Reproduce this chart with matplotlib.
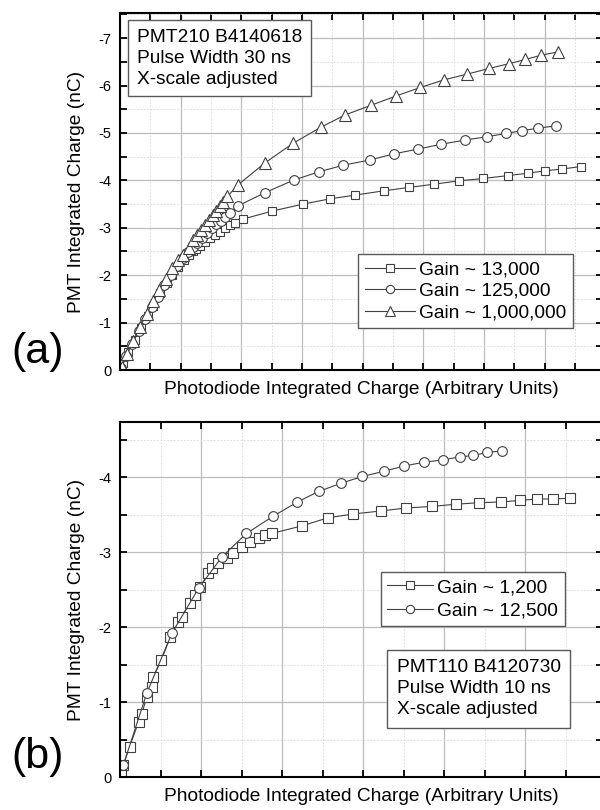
import matplotlib
matplotlib.use("Agg")
import matplotlib.pyplot as plt
from matplotlib.ticker import MultipleLocator

plt.rcParams['font.family'] = ['Liberation Sans', 'DejaVu Sans']
plt.rcParams['axes.unicode_minus'] = False

# (a) PMT210, 30 ns pulses
a_sq_x = [0.01, 0.05, 0.13, 0.24, 0.35, 0.46, 0.55, 0.66, 0.77, 0.86, 0.96, 1.05, 1.13, 1.20, 1.26,
          1.32, 1.40, 1.48, 1.57, 1.65, 1.73, 1.81, 1.89, 2.02, 2.50, 3.02, 3.46, 3.88, 4.35, 4.76,
          5.18, 5.59, 5.99, 6.39, 6.72, 7.00, 7.29, 7.59]
a_sq_y = [-0.03, -0.15, -0.37, -0.64, -0.89, -1.14, -1.36, -1.62, -1.84, -2.01, -2.17, -2.31, -2.42, -2.50, -2.56,
          -2.62, -2.70, -2.78, -2.85, -2.92, -2.99, -3.06, -3.11, -3.18, -3.35, -3.50, -3.61, -3.69, -3.78, -3.85,
          -3.92, -3.99, -4.04, -4.10, -4.15, -4.20, -4.24, -4.29]

a_ci_x = [0.02, 0.10, 0.20, 0.31, 0.42, 0.52, 0.62, 0.73, 0.84, 0.94, 1.04, 1.12, 1.20, 1.27, 1.35,
          1.43, 1.51, 1.59, 1.66, 1.73, 1.81, 1.94, 2.39, 2.87, 3.28, 3.68, 4.12, 4.52, 4.91, 5.29,
          5.68, 6.05, 6.36, 6.63, 6.89, 7.18]
a_ci_y = [-0.04, -0.30, -0.55, -0.82, -1.08, -1.32, -1.55, -1.79, -2.00, -2.19, -2.36, -2.48, -2.59, -2.68, -2.78,
          -2.88, -2.99, -3.07, -3.15, -3.23, -3.32, -3.46, -3.74, -4.01, -4.18, -4.32, -4.43, -4.56, -4.66, -4.76,
          -4.85, -4.92, -4.99, -5.05, -5.10, -5.15]

a_tr_x = [0.03, 0.12, 0.22, 0.33, 0.44, 0.55, 0.65, 0.75, 0.86, 0.95, 1.04, 1.13, 1.21, 1.27, 1.33,
          1.40, 1.47, 1.54, 1.59, 1.65, 1.70, 1.77, 1.94, 2.39, 2.85, 3.31, 3.71, 4.13, 4.55, 4.95,
          5.34, 5.72, 6.08, 6.41, 6.68, 6.94, 7.22]
a_tr_y = [-0.06, -0.34, -0.62, -0.91, -1.19, -1.45, -1.69, -1.92, -2.16, -2.32, -2.43, -2.57, -2.74, -2.85, -2.95,
          -3.06, -3.16, -3.27, -3.36, -3.45, -3.55, -3.66, -3.90, -4.37, -4.78, -5.12, -5.38, -5.58, -5.78, -5.96,
          -6.12, -6.24, -6.36, -6.46, -6.55, -6.64, -6.71]

# (b) PMT110, 10 ns pulses
b_sq_x = [0.01, 0.04, 0.12, 0.23, 0.27, 0.33, 0.39, 0.41, 0.51, 0.62, 0.72, 0.76, 0.86, 0.93, 0.99,
          1.09, 1.13, 1.21, 1.32, 1.40, 1.50, 1.60, 1.71, 1.79, 1.87, 2.24, 2.57, 2.88, 3.22, 3.53,
          3.85, 4.14, 4.43, 4.70, 4.93, 5.15, 5.34, 5.55]
b_sq_y = [-0.03, -0.16, -0.41, -0.74, -0.85, -1.07, -1.21, -1.34, -1.56, -1.87, -2.07, -2.14, -2.32, -2.43, -2.54,
          -2.72, -2.79, -2.85, -2.92, -2.99, -3.07, -3.14, -3.19, -3.23, -3.25, -3.35, -3.46, -3.51, -3.55, -3.59,
          -3.61, -3.64, -3.66, -3.67, -3.69, -3.71, -3.71, -3.72]

b_ci_x = [0.04, 0.33, 0.64, 0.97, 1.26, 1.56, 1.89, 2.19, 2.45, 2.73, 2.99, 3.26, 3.51, 3.75, 3.98,
          4.19, 4.36, 4.53, 4.71]
b_ci_y = [-0.16, -1.12, -1.92, -2.52, -2.94, -3.25, -3.48, -3.67, -3.81, -3.92, -4.01, -4.08, -4.15, -4.20, -4.23,
          -4.27, -4.29, -4.33, -4.35]

a_labels = ['Gain ~ 13,000', 'Gain ~ 125,000', 'Gain ~ 1,000,000']
b_labels = ['Gain ~ 1,200', 'Gain ~ 12,500']
a_note = 'PMT210 B4140618\nPulse Width 30 ns\nX-scale adjusted'
b_note = 'PMT110 B4120730\nPulse Width 10 ns\nX-scale adjusted'
xlab = 'Photodiode Integrated Charge (Arbitrary Units)'
ylab = 'PMT Integrated Charge (nC)'

LC = '#404040'
FS = 13.8


def style(ax, xmax, ymin):
    ax.set_xlim(0, xmax)
    ax.set_ylim(0, ymin)
    ax.xaxis.set_major_locator(MultipleLocator(1))
    ax.xaxis.set_minor_locator(MultipleLocator(0.5))
    ax.yaxis.set_major_locator(MultipleLocator(1))
    ax.yaxis.set_minor_locator(MultipleLocator(0.5))
    ax.grid(which='major', color='#bcbcbc', lw=0.9)
    ax.grid(which='minor', color='#d8d8d8', lw=0.6, ls=(0, (2, 2)))
    ax.set_axisbelow(True)
    for s in ax.spines.values():
        s.set_linewidth(1.5)
    ax.tick_params(which='both', direction='in', length=5, width=1.3,
                   top=True, right=True, labelbottom=False, labelsize=10.5, pad=6)
    ax.set_xlabel(xlab, fontsize=FS, labelpad=8)
    ax.set_ylabel(ylab, fontsize=FS, labelpad=10)
    ax.yaxis.set_major_formatter(plt.FuncFormatter(lambda v, p: '%d' % round(v)))


def series(ax, x, y, mk, ms, lab):
    ax.plot(x, y, color=LC, lw=0.8, marker=mk, ms=ms, mfc='white', mec=LC, mew=0.8, label=lab)


fig = plt.figure(figsize=(6, 8.1), dpi=100)

ax1 = fig.add_axes([0.2, 1 - 370 / 810, 483 / 600, 357 / 810])
style(ax1, 7.96, -7.53)
series(ax1, a_sq_x, a_sq_y, 's', 6, a_labels[0])
series(ax1, a_ci_x, a_ci_y, 'o', 7, a_labels[1])
series(ax1, a_tr_x, a_tr_y, '^', 8, a_labels[2])
ax1.legend(loc='lower right', bbox_to_anchor=(0.937, 0.117), borderaxespad=0, fontsize=FS,
           fancybox=False, framealpha=1, edgecolor='#5a5a5a', handlelength=2.6, handletextpad=0.2,
           labelspacing=0.22, borderpad=0.35, markerscale=0.85)
ax1.text(0.0352, 0.955, a_note, transform=ax1.transAxes, ha='left', va='top', fontsize=FS,
         linespacing=1.3, bbox=dict(boxstyle='square,pad=0.45', fc='white', ec='#5a5a5a', lw=1))
fig.text(0.062, 1 - 352 / 810, '(a)', fontsize=31, ha='center', va='center')

ax2 = fig.add_axes([0.2, 1 - 777.3 / 810, 483 / 600, 355.6 / 810])
style(ax2, 5.96, -4.74)
series(ax2, b_sq_x, b_sq_y, 's', 6.5, b_labels[0])
series(ax2, b_ci_x, b_ci_y, 'o', 7, b_labels[1])
ax2.legend(loc='lower right', bbox_to_anchor=(0.921, 0.4255), borderaxespad=0, fontsize=FS,
           fancybox=False, framealpha=1, edgecolor='#5a5a5a', handlelength=2.4, handletextpad=0.2,
           labelspacing=0.3, borderpad=0.35, markerscale=0.85)
ax2.text(0.573, 0.332, b_note, transform=ax2.transAxes, ha='left', va='top', fontsize=FS,
         linespacing=1.3, bbox=dict(boxstyle='square,pad=0.5', fc='white', ec='#5a5a5a', lw=1))
fig.text(0.063, 1 - 757 / 810, '(b)', fontsize=31, ha='center', va='center')

fig.savefig('out.png', dpi=100)
